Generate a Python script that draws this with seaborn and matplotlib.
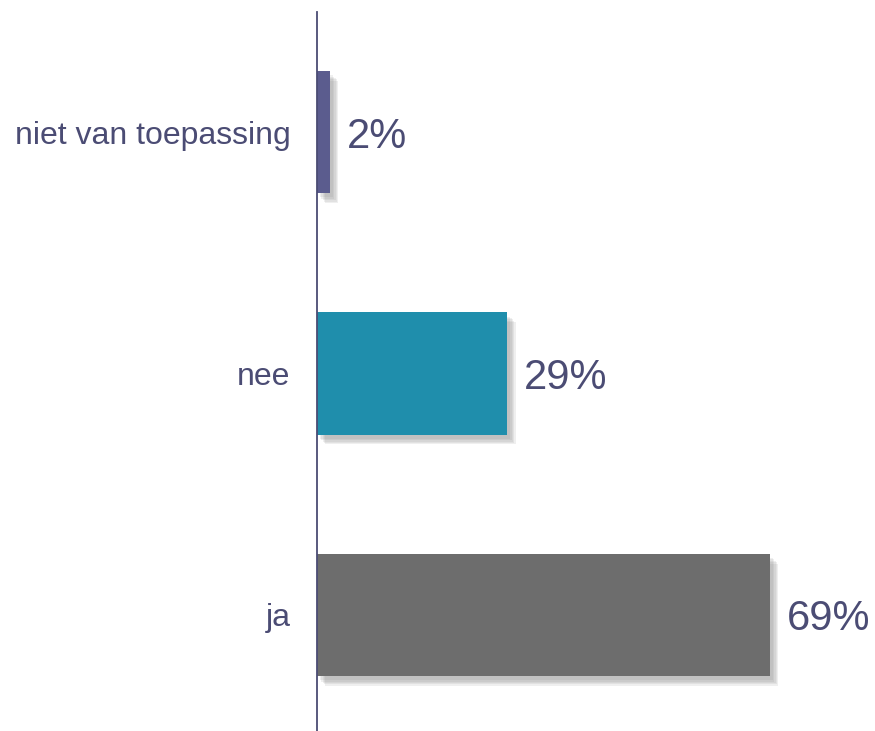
import pandas as pd
import matplotlib.pyplot as plt
import matplotlib.patheffects as pe
import seaborn as sns

categories = ["niet van toepassing", "nee", "ja"]
values = [2, 29, 69]
colors = ["#5b5c8e", "#1f8eac", "#6d6d6d"]
text_color = "#4b4c74"

df = pd.DataFrame({"answer": categories, "pct": values})

sns.set_style("white")
plt.rcParams["font.family"] = ["Liberation Sans", "DejaVu Sans"]

fig = plt.figure(figsize=(8.75, 7.31), dpi=100)
ax = fig.add_axes([0.3623, 0.0, 0.6377, 0.9836])

sns.barplot(data=df, x="pct", y="answer", hue="answer", palette=colors,
            orient="h", width=0.506, legend=False, saturation=1,
            linewidth=0, ax=ax)

# soft drop shadow built from a few faint offset copies
shadow = [pe.SimplePatchShadow(offset=(d, -d - 1), shadow_rgbFace="#808080", alpha=0.12)
          for d in (6, 5, 4, 3, 2)]
for bar in ax.patches:
    bar.set_path_effects(shadow + [pe.Normal()])

for i, v in enumerate(values):
    ax.annotate(f"{v}%", xy=(v, i), xytext=(12, 0), textcoords="offset points",
                va="center_baseline", ha="left", fontsize=30, color=text_color)

ax.set_xlim(0, 85)
ax.set_ylim(2.481, -0.498)
ax.set_xlabel("")
ax.set_ylabel("")
ax.set_xticks([])
ax.tick_params(axis="y", length=0, pad=19, labelsize=23, labelcolor=text_color)
for s in ["top", "right", "bottom"]:
    ax.spines[s].set_visible(False)
ax.spines["left"].set_color(text_color)
ax.spines["left"].set_linewidth(1.3)
ax.spines["left"].set_zorder(5)

fig.savefig("out.png", dpi=100)
